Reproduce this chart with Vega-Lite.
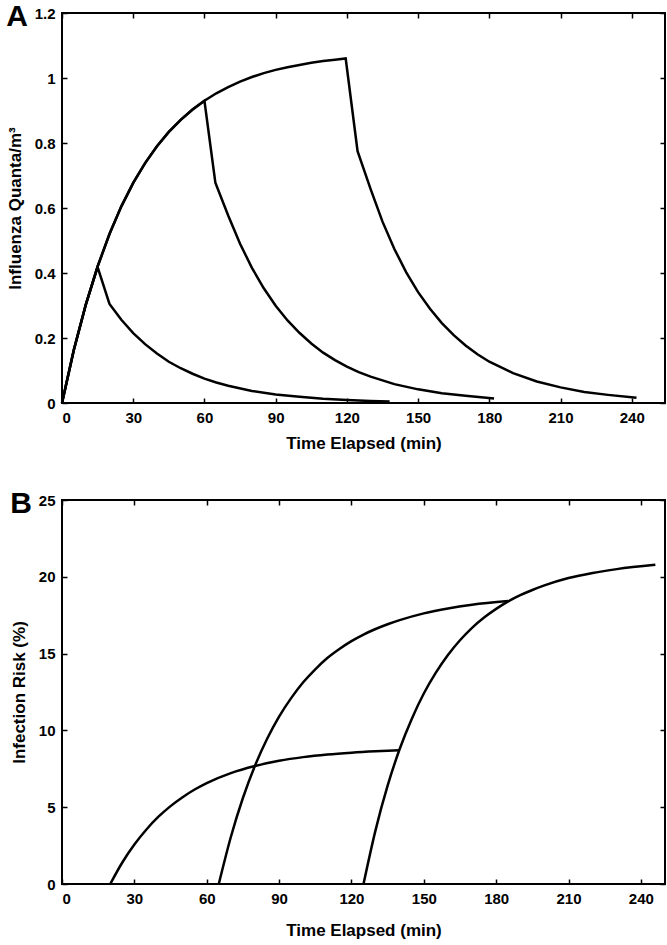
{
  "$schema": "https://vega.github.io/schema/vega-lite/v6.json",
  "padding": {"left": 5, "top": 1, "right": 2, "bottom": 2},
  "background": "white",
  "spacing": 36,
  "config": {
    "view": {"stroke": "black", "strokeWidth": 2},
    "font": "Liberation Sans",
    "axis": {
      "domain": false, "grid": false,
      "labelFont": "Liberation Sans", "labelFontWeight": "bold", "labelFontSize": 15, "labelColor": "black",
      "tickColor": "black", "tickSize": -5, "tickWidth": 1.5,
      "titleFont": "Liberation Sans", "titleFontSize": 17, "titleFontWeight": "bold", "titleColor": "black"
    },
    "axisX": {"labelPadding": 12, "titlePadding": 10},
    "axisY": {"labelPadding": 12, "titlePadding": 10},
    "title": {"font": "Liberation Sans", "fontSize": 30, "fontWeight": "bold", "color": "black", "anchor": "start", "frame": "bounds"}
  },
  "datasets": {
    "a": [
      {"s": 1, "t": 0, "v": 0}, {"s": 1, "t": 5, "v": 0.164}, {"s": 1, "t": 10, "v": 0.302}, {"s": 1, "t": 15, "v": 0.418},
      {"s": 1, "t": 20, "v": 0.305}, {"s": 1, "t": 25, "v": 0.256}, {"s": 1, "t": 30, "v": 0.215}, {"s": 1, "t": 35, "v": 0.181},
      {"s": 1, "t": 40, "v": 0.152}, {"s": 1, "t": 45, "v": 0.127}, {"s": 1, "t": 50, "v": 0.107}, {"s": 1, "t": 55, "v": 0.09},
      {"s": 1, "t": 60, "v": 0.075}, {"s": 1, "t": 65, "v": 0.063}, {"s": 1, "t": 70, "v": 0.053}, {"s": 1, "t": 80, "v": 0.037},
      {"s": 1, "t": 90, "v": 0.026}, {"s": 1, "t": 100, "v": 0.019}, {"s": 1, "t": 110, "v": 0.013}, {"s": 1, "t": 120, "v": 0.009},
      {"s": 1, "t": 130, "v": 0.0065}, {"s": 1, "t": 138, "v": 0.005},
      {"s": 2, "t": 0, "v": 0}, {"s": 2, "t": 5, "v": 0.164}, {"s": 2, "t": 10, "v": 0.302}, {"s": 2, "t": 15, "v": 0.42},
      {"s": 2, "t": 20, "v": 0.52}, {"s": 2, "t": 25, "v": 0.605}, {"s": 2, "t": 30, "v": 0.677}, {"s": 2, "t": 35, "v": 0.738},
      {"s": 2, "t": 40, "v": 0.79}, {"s": 2, "t": 45, "v": 0.834}, {"s": 2, "t": 50, "v": 0.871}, {"s": 2, "t": 55, "v": 0.903},
      {"s": 2, "t": 60, "v": 0.93}, {"s": 2, "t": 64.6, "v": 0.678}, {"s": 2, "t": 70, "v": 0.577}, {"s": 2, "t": 75, "v": 0.49},
      {"s": 2, "t": 80, "v": 0.416}, {"s": 2, "t": 85, "v": 0.353}, {"s": 2, "t": 90, "v": 0.299}, {"s": 2, "t": 95, "v": 0.254},
      {"s": 2, "t": 100, "v": 0.216}, {"s": 2, "t": 105, "v": 0.183}, {"s": 2, "t": 110, "v": 0.155}, {"s": 2, "t": 115, "v": 0.132},
      {"s": 2, "t": 120, "v": 0.112}, {"s": 2, "t": 125, "v": 0.095}, {"s": 2, "t": 130, "v": 0.081}, {"s": 2, "t": 140, "v": 0.058},
      {"s": 2, "t": 150, "v": 0.042}, {"s": 2, "t": 160, "v": 0.03}, {"s": 2, "t": 170, "v": 0.022}, {"s": 2, "t": 182, "v": 0.014},
      {"s": 3, "t": 0, "v": 0}, {"s": 3, "t": 5, "v": 0.164}, {"s": 3, "t": 10, "v": 0.302}, {"s": 3, "t": 15, "v": 0.42},
      {"s": 3, "t": 20, "v": 0.52}, {"s": 3, "t": 25, "v": 0.605}, {"s": 3, "t": 30, "v": 0.677}, {"s": 3, "t": 35, "v": 0.738},
      {"s": 3, "t": 40, "v": 0.79}, {"s": 3, "t": 45, "v": 0.834}, {"s": 3, "t": 50, "v": 0.871}, {"s": 3, "t": 55, "v": 0.903},
      {"s": 3, "t": 60, "v": 0.93}, {"s": 3, "t": 65, "v": 0.953}, {"s": 3, "t": 70, "v": 0.972}, {"s": 3, "t": 75, "v": 0.989},
      {"s": 3, "t": 80, "v": 1.003}, {"s": 3, "t": 85, "v": 1.015}, {"s": 3, "t": 90, "v": 1.025}, {"s": 3, "t": 95, "v": 1.033},
      {"s": 3, "t": 100, "v": 1.04}, {"s": 3, "t": 105, "v": 1.047}, {"s": 3, "t": 110, "v": 1.052}, {"s": 3, "t": 115, "v": 1.056},
      {"s": 3, "t": 119.5, "v": 1.06}, {"s": 3, "t": 124.5, "v": 0.775}, {"s": 3, "t": 130, "v": 0.658}, {"s": 3, "t": 135, "v": 0.558},
      {"s": 3, "t": 140, "v": 0.474}, {"s": 3, "t": 145, "v": 0.402}, {"s": 3, "t": 150, "v": 0.341}, {"s": 3, "t": 155, "v": 0.29},
      {"s": 3, "t": 160, "v": 0.246}, {"s": 3, "t": 165, "v": 0.209}, {"s": 3, "t": 170, "v": 0.177}, {"s": 3, "t": 175, "v": 0.15},
      {"s": 3, "t": 180, "v": 0.127}, {"s": 3, "t": 190, "v": 0.092}, {"s": 3, "t": 200, "v": 0.066}, {"s": 3, "t": 210, "v": 0.048},
      {"s": 3, "t": 220, "v": 0.034}, {"s": 3, "t": 230, "v": 0.025}, {"s": 3, "t": 242, "v": 0.016}
    ],
    "b": [
      {"s": 1, "t": 20, "v": 0}, {"s": 1, "t": 25, "v": 1.4}, {"s": 1, "t": 30, "v": 2.57}, {"s": 1, "t": 35, "v": 3.55},
      {"s": 1, "t": 40, "v": 4.38}, {"s": 1, "t": 45, "v": 5.07}, {"s": 1, "t": 50, "v": 5.65}, {"s": 1, "t": 55, "v": 6.15},
      {"s": 1, "t": 60, "v": 6.57}, {"s": 1, "t": 70, "v": 7.22}, {"s": 1, "t": 80, "v": 7.68}, {"s": 1, "t": 90, "v": 8.02},
      {"s": 1, "t": 100, "v": 8.26}, {"s": 1, "t": 110, "v": 8.43}, {"s": 1, "t": 120, "v": 8.55}, {"s": 1, "t": 130, "v": 8.64},
      {"s": 1, "t": 140, "v": 8.71},
      {"s": 2, "t": 65, "v": 0}, {"s": 2, "t": 70, "v": 3.06}, {"s": 2, "t": 75, "v": 5.6}, {"s": 2, "t": 80, "v": 7.7},
      {"s": 2, "t": 85, "v": 9.44}, {"s": 2, "t": 90, "v": 10.9}, {"s": 2, "t": 95, "v": 12.1}, {"s": 2, "t": 100, "v": 13.13},
      {"s": 2, "t": 105, "v": 13.98}, {"s": 2, "t": 110, "v": 14.71}, {"s": 2, "t": 115, "v": 15.3}, {"s": 2, "t": 120, "v": 15.81},
      {"s": 2, "t": 125, "v": 16.24}, {"s": 2, "t": 130, "v": 16.6}, {"s": 2, "t": 135, "v": 16.91}, {"s": 2, "t": 140, "v": 17.18},
      {"s": 2, "t": 150, "v": 17.62}, {"s": 2, "t": 160, "v": 17.94}, {"s": 2, "t": 170, "v": 18.18}, {"s": 2, "t": 185, "v": 18.42},
      {"s": 3, "t": 125, "v": 0}, {"s": 3, "t": 130, "v": 3.51}, {"s": 3, "t": 135, "v": 6.4}, {"s": 3, "t": 140, "v": 8.79},
      {"s": 3, "t": 145, "v": 10.75}, {"s": 3, "t": 150, "v": 12.4}, {"s": 3, "t": 155, "v": 13.76}, {"s": 3, "t": 160, "v": 14.91},
      {"s": 3, "t": 165, "v": 15.87}, {"s": 3, "t": 170, "v": 16.68}, {"s": 3, "t": 175, "v": 17.35}, {"s": 3, "t": 180, "v": 17.91},
      {"s": 3, "t": 185, "v": 18.4}, {"s": 3, "t": 190, "v": 18.8}, {"s": 3, "t": 195, "v": 19.14}, {"s": 3, "t": 200, "v": 19.44},
      {"s": 3, "t": 210, "v": 19.92}, {"s": 3, "t": 220, "v": 20.25}, {"s": 3, "t": 230, "v": 20.5}, {"s": 3, "t": 246, "v": 20.78}
    ]
  },
  "vconcat": [
    {
      "width": 603, "height": 390,
      "title": {"text": "A", "offset": -26},
      "data": {"name": "a"},
      "layer": [
        {
          "mark": {"type": "line", "color": "black", "strokeWidth": 2.5},
          "encoding": {
            "x": {"field": "t", "type": "quantitative", "scale": {"domain": [0, 254], "nice": false, "zero": false},
                  "axis": {"values": [0, 30, 60, 90, 120, 150, 180, 210, 240], "title": "Time Elapsed (min)"}},
            "y": {"field": "v", "type": "quantitative", "scale": {"domain": [0, 1.2], "nice": false},
                  "axis": {"values": [0, 0.2, 0.4, 0.6, 0.8, 1, 1.2], "format": "~g", "title": "Influenza Quanta/m³"}},
            "detail": {"field": "s"}
          }
        },
        {
          "mark": {"type": "line", "opacity": 0},
          "encoding": {
            "x": {"field": "t", "type": "quantitative",
                  "axis": {"orient": "top", "values": [0, 30, 60, 90, 120, 150, 180, 210, 240], "labels": false, "title": null}},
            "y": {"field": "v", "type": "quantitative",
                  "axis": {"orient": "right", "values": [0, 0.2, 0.4, 0.6, 0.8, 1, 1.2], "labels": false, "title": null}},
            "detail": {"field": "s"}
          }
        }
      ],
      "resolve": {"axis": {"x": "independent", "y": "independent"}}
    },
    {
      "width": 603, "height": 384,
      "title": {"text": "B", "offset": -26},
      "data": {"name": "b"},
      "layer": [
        {
          "mark": {"type": "line", "color": "black", "strokeWidth": 2.5, "interpolate": "monotone"},
          "encoding": {
            "x": {"field": "t", "type": "quantitative", "scale": {"domain": [0, 250], "nice": false, "zero": false},
                  "axis": {"values": [0, 30, 60, 90, 120, 150, 180, 210, 240], "title": "Time Elapsed (min)", "titlePadding": 16}},
            "y": {"field": "v", "type": "quantitative", "scale": {"domain": [0, 25], "nice": false},
                  "axis": {"values": [0, 5, 10, 15, 20, 25], "title": "Infection Risk (%)"}},
            "detail": {"field": "s"}
          }
        },
        {
          "mark": {"type": "line", "opacity": 0},
          "encoding": {
            "x": {"field": "t", "type": "quantitative",
                  "axis": {"orient": "top", "values": [0, 30, 60, 90, 120, 150, 180, 210, 240], "labels": false, "title": null}},
            "y": {"field": "v", "type": "quantitative",
                  "axis": {"orient": "right", "values": [0, 5, 10, 15, 20, 25], "labels": false, "title": null}},
            "detail": {"field": "s"}
          }
        }
      ],
      "resolve": {"axis": {"x": "independent", "y": "independent"}}
    }
  ]
}
